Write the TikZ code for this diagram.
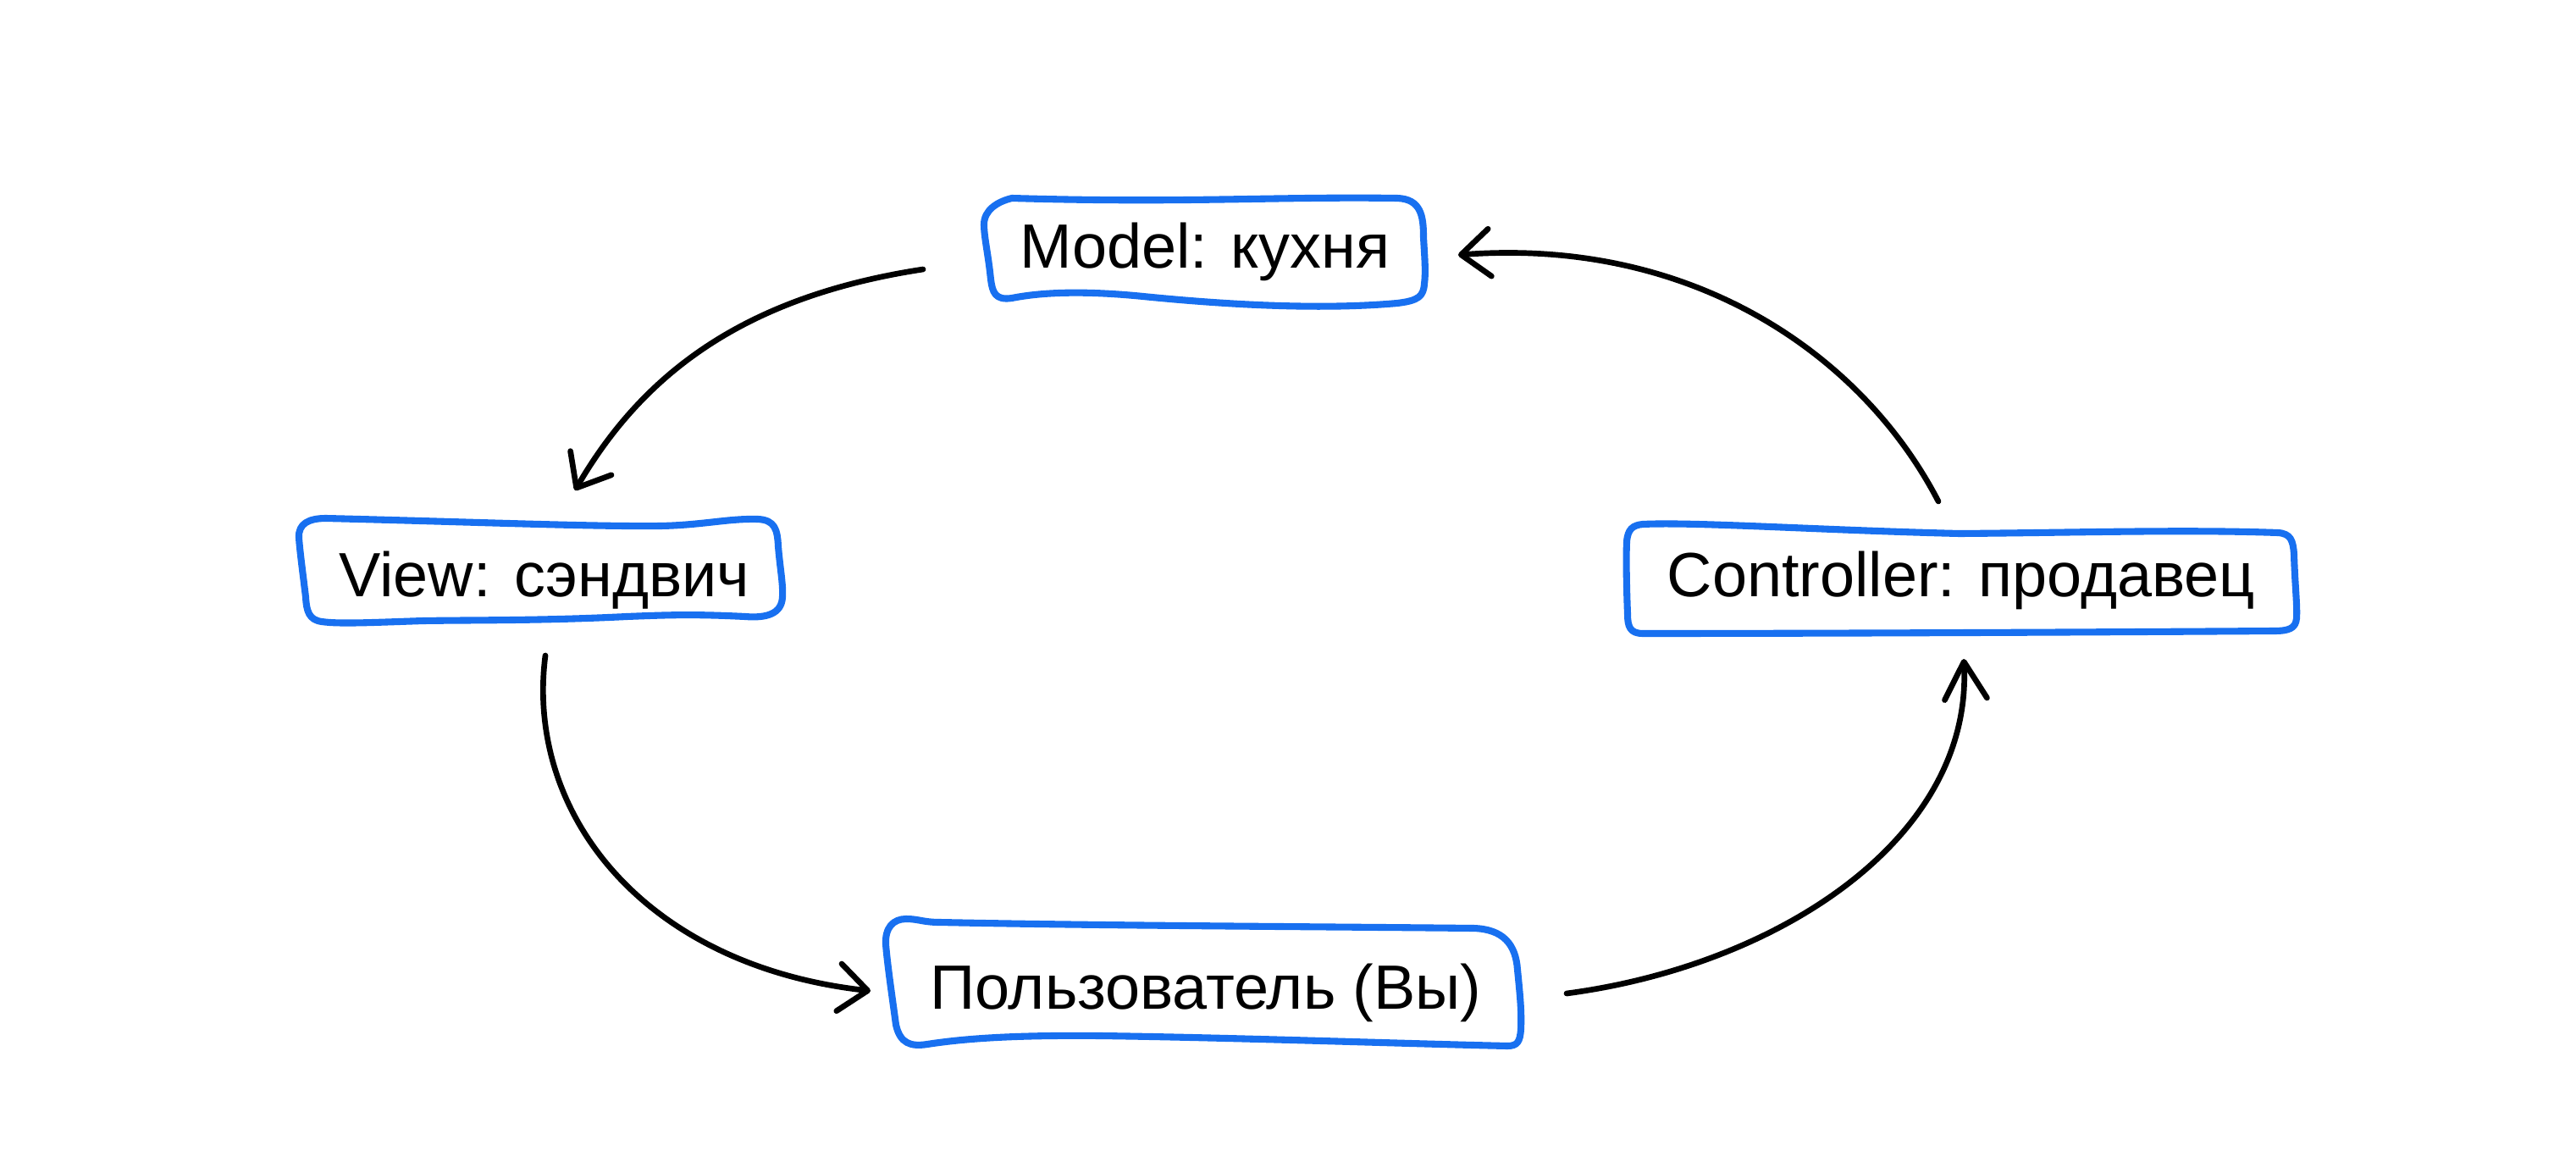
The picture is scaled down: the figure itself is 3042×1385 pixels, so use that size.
\documentclass[tikz,border=0pt]{standalone}
\usepackage{fontspec}
\setmainfont{Liberation Sans}
\usetikzlibrary{arrows.meta}
\definecolor{boxblue}{RGB}{24,112,240}
\begin{document}
\begin{tikzpicture}[x=0.01cm,y=-0.01cm,
  lbl/.style={anchor=base, inner sep=0pt, font=\fontsize{21pt}{25pt}\selectfont},
  handbox/.style={draw=boxblue, line width=2.3pt, line cap=round, line join=round},
  flow/.style={draw=black, line width=1.9pt, line cap=round},
  tipwide/.style={-{Straight Barb[length=3.4mm,width=5.6mm,round]}},
  tipnarrow/.style={-{Straight Barb[length=4.4mm,width=5.0mm,round]}}]
\useasboundingbox (0,0) rectangle (3042,1385);
\fill[white] (0,0) rectangle (3042,1385);

% boxes
\draw[handbox] (1195,234) .. controls (1400,240) and (1500,232) .. (1650,234)
  .. controls (1678,235) and (1681,255) .. (1681,280)
  .. controls (1682,300) and (1684,320) .. (1682,335)
  .. controls (1681,350) and (1675,355) .. (1650,358)
  .. controls (1560,366) and (1450,360) .. (1350,350)
  .. controls (1280,343) and (1230,345) .. (1195,352)
  .. controls (1175,355) and (1172,345) .. (1170,330)
  .. controls (1167,300) and (1162,280) .. (1162,265)
  .. controls (1162,248) and (1178,238) .. (1195,234) -- cycle;
\draw[handbox] (385,612) .. controls (550,616) and (700,622) .. (780,621)
  .. controls (830,620) and (860,612) .. (895,613)
  .. controls (915,614) and (918,625) .. (919,645)
  .. controls (921,670) and (925,690) .. (924,705)
  .. controls (923,725) and (905,730) .. (880,728)
  .. controls (820,725) and (790,726) .. (740,728)
  .. controls (640,733) and (560,732) .. (500,733)
  .. controls (440,735) and (400,737) .. (380,734)
  .. controls (365,732) and (362,722) .. (361,705)
  .. controls (358,680) and (354,650) .. (353,635)
  .. controls (352,618) and (365,612) .. (385,612) -- cycle;
\draw[handbox] (1070,1085) .. controls (1085,1085) and (1090,1089) .. (1110,1089)
  .. controls (1300,1093) and (1550,1094) .. (1740,1096)
  .. controls (1775,1097) and (1790,1115) .. (1792,1145)
  .. controls (1795,1175) and (1797,1195) .. (1796,1215)
  .. controls (1795,1230) and (1792,1235) .. (1780,1235)
  .. controls (1650,1232) and (1450,1225) .. (1300,1223)
  .. controls (1200,1222) and (1140,1226) .. (1095,1233)
  .. controls (1075,1236) and (1063,1232) .. (1058,1210)
  .. controls (1054,1180) and (1048,1140) .. (1046,1115)
  .. controls (1045,1095) and (1055,1085) .. (1070,1085) -- cycle;
\draw[handbox] (1940,619) .. controls (2000,616) and (2150,626) .. (2314,630)
  .. controls (2450,629) and (2580,625) .. (2690,629)
  .. controls (2705,630) and (2708,638) .. (2709,655)
  .. controls (2710,690) and (2713,715) .. (2712,730)
  .. controls (2711,742) and (2703,745) .. (2685,745)
  .. controls (2400,747) and (2100,748) .. (1940,748)
  .. controls (1925,748) and (1922,740) .. (1922,725)
  .. controls (1921,700) and (1920,660) .. (1921,640)
  .. controls (1922,625) and (1928,620) .. (1940,619) -- cycle;

% labels
\node[lbl] (model) at (1423,317) {Model: кухня};
\node[lbl] (view) at (643,704) {View: сэндвич};
\node[lbl] (ctrl) at (2316,704) {Controller: продавец};
\node[lbl] (user) at (1424,1191) {Пользователь (Вы)};

% connector ends
\coordinate (mS) at (1090,318);
\coordinate (vE) at (679,579);
\coordinate (vS) at (644,774);
\coordinate (uE) at (1028,1170);
\coordinate (uS) at (1850,1173);
\coordinate (cE) at (2319,778);
\coordinate (cS) at (2289,592);
\coordinate (mE) at (1722,301);

\draw[flow, tipwide] (mS) .. controls (880,350) and (760,440) .. (vE);
\draw[flow, tipwide] (vS) .. controls (620,960) and (760,1140) .. (uE);
\draw[flow, tipnarrow] (uS) .. controls (2100,1140) and (2330,990) .. (cE);
\draw[flow, tipwide] (cS) .. controls (2200,420) and (2000,280) .. (mE);
\end{tikzpicture}
\end{document}
